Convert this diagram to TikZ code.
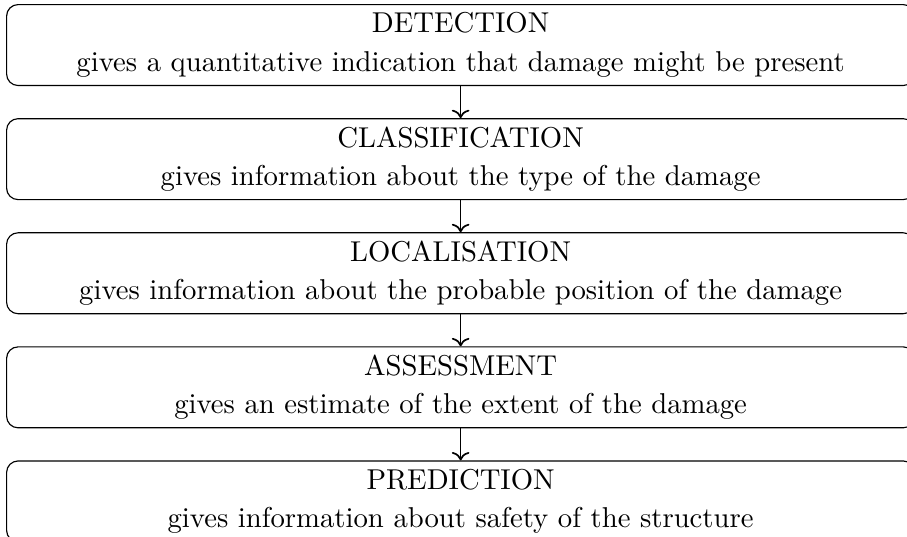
\documentclass[tikz,border=0pt]{standalone}
\usepackage{tikz}
\usetikzlibrary{positioning, arrows.meta}

\begin{document}
\begin{tikzpicture}[
    node distance=11.15pt,
    stage/.style={draw, rectangle, rounded corners, text width=309.7pt, minimum height=28.2pt, inner ysep=2.5pt, align=center},
    arrow/.style={->, semithick},
]
\useasboundingbox (0,0) rectangle (316pt,-186.8pt);

% Stages
\node[stage, anchor=north west] (detect) at (2.1pt,-1.4pt) {DETECTION\\[1.4pt]gives a quantitative indication that damage might be present};
\node[stage, below=of detect] (classify) {CLASSIFICATION\\[1.4pt]gives information about the type of the damage};
\node[stage, below=of classify] (locate) {LOCALISATION\\[1.4pt]gives information about the probable position of the damage};
\node[stage, below=of locate] (assess) {ASSESSMENT\\[1.4pt]gives an estimate of the extent of the damage};
\node[stage, below=of assess] (predict) {PREDICTION\\[1.4pt]gives information about safety of the structure};

% Connections
\draw[arrow] (detect) -- (classify);
\draw[arrow] (classify) -- (locate);
\draw[arrow] (locate) -- (assess);
\draw[arrow] (assess) -- (predict);

\end{tikzpicture}
\end{document}
